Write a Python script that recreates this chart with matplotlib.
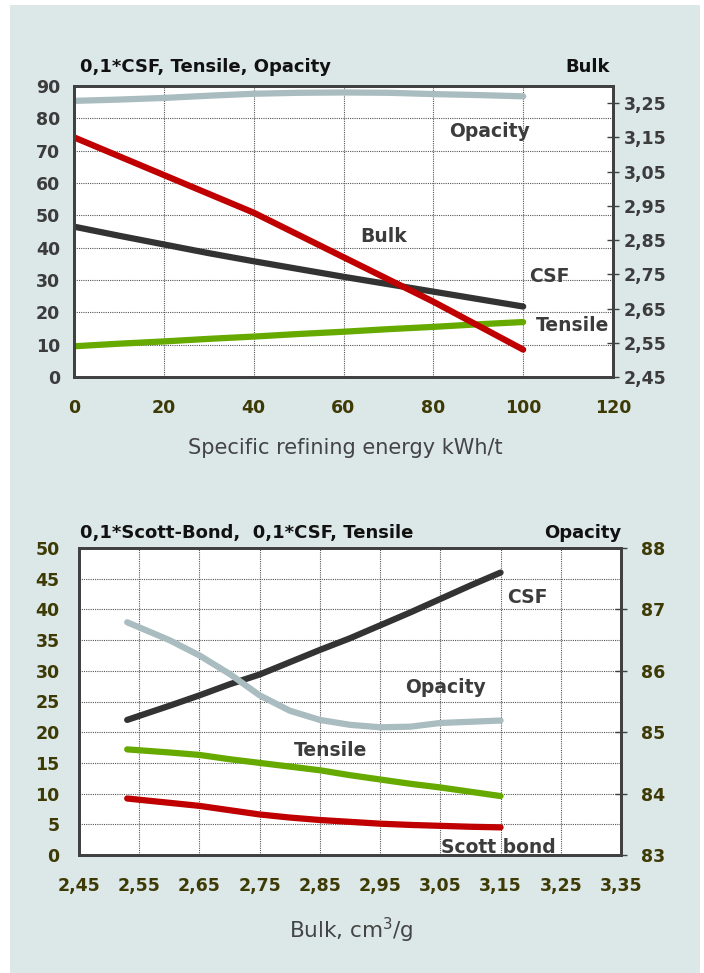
import numpy as np
import matplotlib.pyplot as plt
from matplotlib.patches import Rectangle
from matplotlib.ticker import FuncFormatter

plt.rcParams['font.family'] = ['DejaVu Sans']

# top chart: refining energy
energy = [0, 10, 20, 30, 40, 50, 60, 70, 80, 90, 100]
opacity_e = [85.4, 85.8, 86.3, 87.0, 87.6, 87.9, 88.0, 87.9, 87.5, 87.2, 86.8]
csf_e = [46.5, 43.7, 41.0, 38.3, 35.8, 33.4, 31.0, 28.7, 26.4, 24.1, 21.8]
tensile_e = [9.5, 10.3, 11.0, 11.8, 12.5, 13.3, 14.0, 14.8, 15.5, 16.3, 17.0]
bulk_e = [3.15, 3.095, 3.04, 2.985, 2.93, 2.865, 2.80, 2.735, 2.67, 2.60, 2.53]

# bottom chart: vs bulk
bulk = [2.53, 2.60, 2.65, 2.70, 2.75, 2.80, 2.85, 2.90, 2.95, 3.00, 3.05, 3.10, 3.15]
csf_b = [22.0, 24.3, 26.0, 27.8, 29.4, 31.4, 33.4, 35.3, 37.4, 39.5, 41.7, 43.9, 46.0]
tensile_b = [17.2, 16.7, 16.3, 15.6, 15.0, 14.4, 13.8, 13.0, 12.3, 11.6, 11.0, 10.3, 9.6]
scott_b = [9.2, 8.5, 8.0, 7.3, 6.6, 6.1, 5.7, 5.4, 5.1, 4.9, 4.75, 4.6, 4.5]
opacity_b = [86.79, 86.5, 86.25, 85.95, 85.6, 85.35, 85.2, 85.12, 85.08, 85.09, 85.15, 85.17, 85.19]

BG = '#dce7e7'
GRAY = '#3c3c3c'
OLIVE = '#3d3a05'
C_OPA = '#a9bcc0'
C_CSF = '#333333'
C_TEN = '#66aa00'
C_RED = '#c00000'
W, H = 704, 973

comma = lambda fmt: FuncFormatter(lambda v, p: (fmt % v).replace('.', ','))

fig = plt.figure(figsize=(W / 100, H / 100), dpi=100, facecolor='white')
fig.patches.append(Rectangle((10 / W, 0), 690 / W, 1 - 5 / H, transform=fig.transFigure,
                             facecolor=BG, edgecolor='none', zorder=-10))

def box(l, t, r, b):
    return [l / W, 1 - b / H, (r - l) / W, (b - t) / H]

def style(ax, ax2):
    for a in (ax, ax2):
        for s in a.spines.values():
            s.set_color('#404040')
            s.set_linewidth(2)
    ax.set_facecolor('white')
    ax.grid(True, color='#555555', linestyle=(0, (1, 1)), linewidth=0.8)
    ax.tick_params(axis='both', length=0)
    ax2.tick_params(axis='y', direction='inout', length=9, width=1, color='#404040')

kw = dict(solid_capstyle='round', linewidth=4.5)
lab = dict(fontsize=13.5, fontweight='bold', color=GRAY, ha='center', va='center')
tick = 12.5

# ---------- top chart ----------
ax = fig.add_axes(box(74, 86, 613, 377))
ax2 = ax.twinx()
style(ax, ax2)
ax.plot(energy, opacity_e, color=C_OPA, **kw)
ax.plot(energy, csf_e, color=C_CSF, **kw)
ax.plot(energy, tensile_e, color=C_TEN, **kw)
ax2.plot(energy, bulk_e, color=C_RED, **kw)
ax.set_xlim(0, 120)
ax.set_ylim(0, 90)
ax.set_xticks(np.arange(0, 121, 20))
ax.set_yticks(np.arange(0, 91, 10))
ax2.set_ylim(2.45, 3.30)
ax2.set_yticks(np.arange(2.45, 3.26, 0.1))
ax2.yaxis.set_major_formatter(comma('%.2f'))
for t in ax.get_xticklabels():
    t.set(fontsize=tick, fontweight='bold', color=OLIVE)
for t in ax.get_yticklabels() + ax2.get_yticklabels():
    t.set(fontsize=tick, fontweight='bold', color=GRAY)
ax.tick_params(axis='x', pad=16)
ax.tick_params(axis='y', pad=10)
ax2.tick_params(axis='y', pad=3)
ax.text(92.4, 75.8, 'Opacity', **lab)
ax.text(69, 43.6, 'Bulk', **lab)
ax.text(105.8, 31, 'CSF', **lab)
ax.text(110.9, 15.8, 'Tensile', **lab)
fig.text(80 / W, 1 - 67 / H, '0,1*CSF, Tensile, Opacity', ha='left', va='center',
         fontsize=13, fontweight='bold', color='#111111')
fig.text(610 / W, 1 - 67 / H, 'Bulk', ha='right', va='center',
         fontsize=13, fontweight='bold', color='#111111')
fig.text(345 / W, 1 - 448 / H, 'Specific refining energy kWh/t', ha='center', va='center',
         fontsize=15, color='#444444')

# ---------- bottom chart ----------
bx = fig.add_axes(box(79, 548, 621, 855))
bx2 = bx.twinx()
style(bx, bx2)
bx.plot(bulk, csf_b, color=C_CSF, **kw)
bx.plot(bulk, tensile_b, color=C_TEN, **kw)
bx.plot(bulk, scott_b, color=C_RED, **kw)
bx2.plot(bulk, opacity_b, color=C_OPA, **kw)
bx.set_xlim(2.45, 3.35)
bx.set_ylim(0, 50)
bx.set_xticks(np.arange(2.45, 3.36, 0.1))
bx.set_yticks(np.arange(0, 51, 5))
bx.xaxis.set_major_formatter(comma('%.2f'))
bx2.set_ylim(83, 88)
bx2.set_yticks(np.arange(83, 89, 1))
for t in bx.get_xticklabels() + bx.get_yticklabels() + bx2.get_yticklabels():
    t.set(fontsize=tick, fontweight='bold', color=OLIVE)
bx.tick_params(axis='x', pad=16)
bx.tick_params(axis='y', pad=14)
bx2.tick_params(axis='y', pad=10)
bx.text(3.194, 42.0, 'CSF', **lab)
bx.text(3.058, 27.2, 'Opacity', **lab)
bx.text(2.867, 17.1, 'Tensile', **lab)
bx.text(3.146, 1.3, 'Scott bond', **lab)
fig.text(80 / W, 1 - 533 / H, '0,1*Scott-Bond,  0,1*CSF, Tensile', ha='left', va='center',
         fontsize=13, fontweight='bold', color='#111111')
fig.text(621 / W, 1 - 533 / H, 'Opacity', ha='right', va='center',
         fontsize=13, fontweight='bold', color='#111111')
fig.text(351 / W, 1 - 930 / H, 'Bulk, cm$^3$/g', ha='center', va='center',
         fontsize=15.5, color='#444444')

fig.savefig('out.png', dpi=100, facecolor='white')
